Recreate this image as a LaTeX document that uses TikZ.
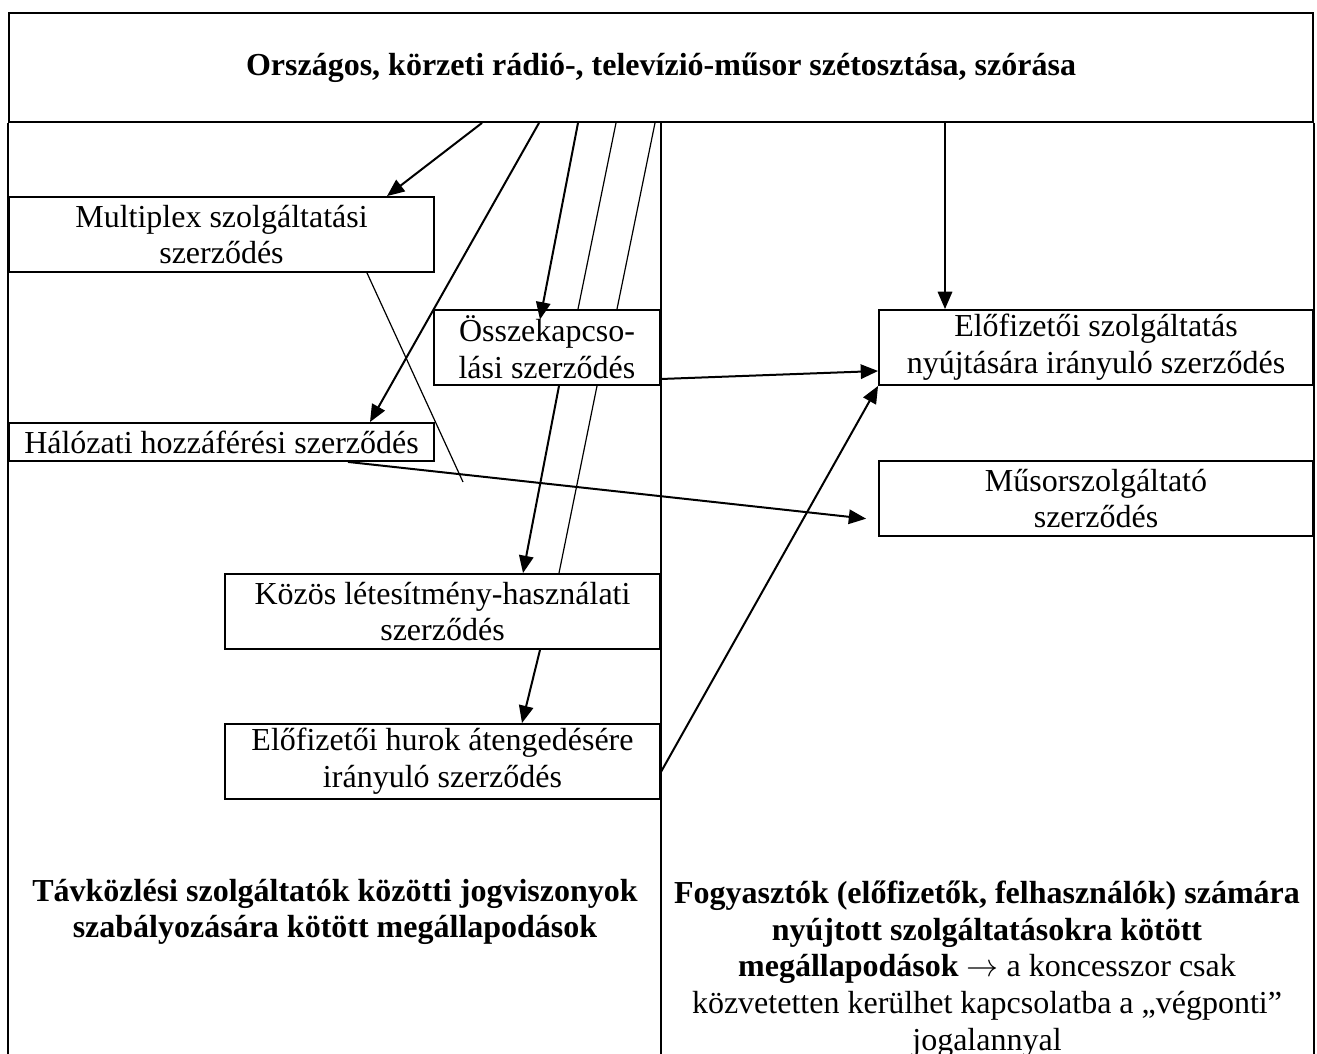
\documentclass[tikz,border=0pt]{standalone}
\usepackage{fontspec}
\setmainfont{Liberation Serif}
\usetikzlibrary{arrows.meta}

\begin{document}
\begin{tikzpicture}[x=0.375pt,y=-0.375pt,
        box/.style={draw,line width=0.7pt,inner sep=0pt,align=center,font=\fontsize{12}{13.8}\selectfont},
        lbl/.style={inner sep=0pt,align=center,font=\fontsize{12}{13.8}\selectfont},
        arr/.style={line width=0.75pt,-{Triangle[length=6.5pt,width=5.4pt]}},
        ln/.style={line width=0.45pt}]
                \useasboundingbox (0,0) rectangle (1317,1054);
                \node[box,minimum width=489pt,minimum height=40.875pt] (head) at (661,67.5) {\textbf{Országos, körzeti rádió-, televízió-műsor szétosztása, szórása}};
                \node[box,minimum width=159.375pt,minimum height=28.125pt] (multi) at (221.5,234.5) {Multiplex szolgáltatási\\szerződés};
                \node[box,minimum width=84.75pt,minimum height=28.125pt] (ossze) at (547,347.5) {Összekapcso-\\lási szerződés};
                \node[box,minimum width=159.375pt,minimum height=14.25pt] (halo) at (221.5,442) {Hálózati hozzáférési szerződés};
                \node[box,minimum width=163.125pt,minimum height=28.125pt] (kozos) at (442.5,611.5) {Közös létesítmény-használati\\szerződés};
                \node[box,minimum width=163.125pt,minimum height=28.125pt] (hurok) at (442.5,761.5) {Előfizetői hurok átengedésére\\irányuló szerződés};
                \node[box,minimum width=162.75pt,minimum height=28.125pt] (elo) at (1096,347.5) {Előfizetői szolgáltatás\\nyújtására irányuló szerződés};
                \node[box,minimum width=162.75pt,minimum height=28.125pt] (musor) at (1096,498.5) {Műsorszolgáltató\\szerződés};
                \node[lbl,font=\fontsize{12}{13.8}\selectfont\bfseries] (tav) at (335,912) {Távközlési szolgáltatók közötti jogviszonyok\\szabályozására kötött megállapodások};
                \node[lbl] (fogy) at (987,969) {\textbf{Fogyasztók (előfizetők, felhasználók) számára}\\\textbf{nyújtott szolgáltatásokra kötött}\\\textbf{megállapodások} $\rightarrow$ a koncesszor csak\\közvetetten kerülhet kapcsolatba a „végponti”\\jogalannyal};
                \coordinate (xend) at (463,482);
                \draw[line width=0.7pt] (head.south west) -- (head.south west |- 0,1054);
                \draw[line width=0.7pt] (head.south east) -- (head.south east |- 0,1054);
                \draw[line width=0.7pt] (head.south -| ossze.east) -- (ossze.east |- 0,1054);
                \draw[arr] (head.south -| 482,0) -- (multi.north -| 387,0);
                \draw[arr] (head.south -| 539,0) -- (halo.north -| 370,0);
                \draw[arr,shorten >=-4pt] (head.south -| 578,0) -- (ossze.north -| 542,0);
                \draw[ln] (head.south -| 616,0) -- (ossze.north -| 578,0);
                \draw[ln] (head.south -| 655,0) -- (ossze.north -| 617,0);
                \draw[arr] (head.south -| 945,0) -- (elo.north -| 945,0);
                \draw[ln] (multi.south -| 367,0) -- (xend);
                \draw[arr] (ossze.east |- 0,379) -- (elo.west |- 0,371);
                \draw[arr,shorten >=4.5pt] (halo.south -| 348,0) -- (musor.west |- 0,520);
                \draw[arr] (ossze.south -| 559,0) -- (kozos.north -| 523,0);
                \draw[ln] (ossze.south -| 597,0) -- (kozos.north -| 559,0);
                \draw[arr] (kozos.south -| 540,0) -- (hurok.north -| 522,0);
                \draw[arr] (hurok.east |- 0,772) -- (elo.south west);
\end{tikzpicture}
\end{document}
